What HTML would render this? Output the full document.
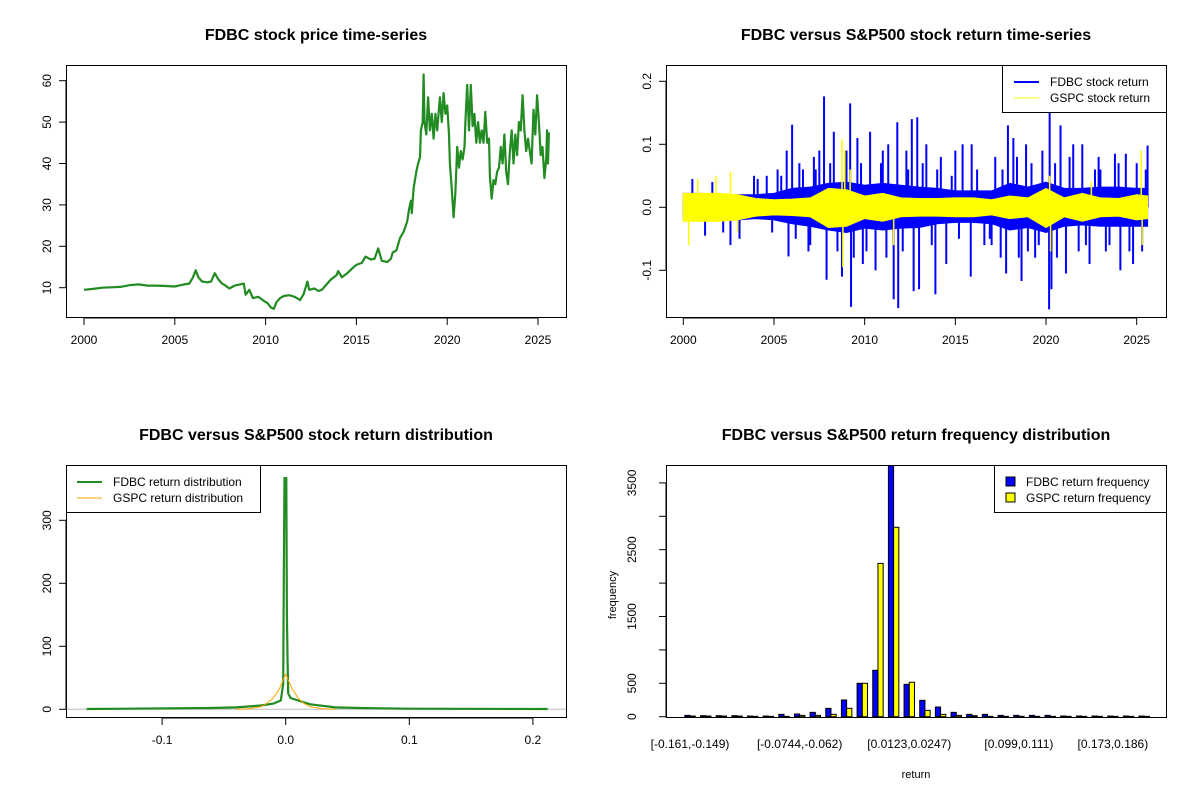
<!DOCTYPE html>
<html><head><meta charset="utf-8"><style>
html,body{margin:0;padding:0;background:#fff}
svg{display:block;font-family:"Liberation Sans",Arial,sans-serif}
</style></head><body>
<svg id="s" width="1200" height="800" viewBox="0 0 1200 800"></svg>
<script>
// ---------- data ----------
const priceYears=[2000.0,2000.5,2001,2001.5,2002,2002.5,2003,2003.5,2004,2004.5,2005,2005.5,2005.8,2006.0,2006.15,2006.3,2006.5,2006.8,2007.0,2007.2,2007.4,2007.6,2007.8,2008.0,2008.3,2008.6,2008.8,2008.9,2009.1,2009.3,2009.6,2009.9,2010.1,2010.3,2010.45,2010.6,2010.8,2011.0,2011.3,2011.6,2011.9,2012.1,2012.3,2012.4,2012.7,2012.9,2013.1,2013.3,2013.6,2013.9,2014.0,2014.2,2014.5,2014.8,2015.0,2015.3,2015.5,2015.8,2016.0,2016.2,2016.4,2016.7,2016.9,2017.0,2017.2,2017.4,2017.6,2017.8,2017.9,2018.0,2018.05,2018.15,2018.3,2018.4,2018.5,2018.55,2018.65,2018.7,2018.75,2018.85,2018.95,2019.05,2019.15,2019.25,2019.35,2019.45,2019.6,2019.7,2019.8,2019.9,2020.0,2020.1,2020.15,2020.25,2020.35,2020.45,2020.55,2020.65,2020.75,2020.85,2020.95,2021.0,2021.1,2021.2,2021.3,2021.4,2021.5,2021.6,2021.7,2021.8,2021.9,2022.0,2022.1,2022.2,2022.3,2022.35,2022.45,2022.55,2022.65,2022.75,2022.85,2022.95,2023.05,2023.15,2023.25,2023.35,2023.45,2023.55,2023.65,2023.75,2023.85,2023.95,2024.05,2024.15,2024.25,2024.35,2024.45,2024.55,2024.65,2024.75,2024.85,2024.95,2025.05,2025.15,2025.25,2025.35,2025.45,2025.5,2025.55,2025.6];
const priceValues=[9.5,9.7,10,10.1,10.2,10.6,10.8,10.5,10.5,10.4,10.3,10.8,11,12.5,14.2,12.5,11.5,11.3,11.5,13.5,12,11,10.5,9.8,10.5,10.8,11,8.3,9.5,7.5,7.8,6.8,6.3,5.2,4.9,6.5,7.5,8.0,8.2,7.8,7.0,8.5,11.5,9.5,9.8,9.2,9.5,10.5,12,13,14,12.5,13.5,14.8,15.5,16,17.5,16.8,17.0,19.5,16.5,16.2,17,18.5,19,22,23.5,26,29,31,28,34,38,40,41.5,48,50,61.5,50,47,56,48,52,46,52,48,56,50,57,52,54,47,40,34,27,33,44,39,43,41,44,50,59,48,59,49,52,45,50,45,48,45,52.5,45,46,37,31.5,36,35,38,39,44,40,47,38,35,43,48,40,47,42,50,48,56.5,48,43,46,43,40,53,47,56.5,50,42,44,36.5,41,48,40,47.5];

const bandYears=[2000,2001,2002,2003,2004,2005,2006,2007,2008,2009,2010,2011,2012,2013,2014,2015,2016,2017,2018,2019,2020,2021,2022,2023,2024,2025,2025.6];
const fdbcUp=[0.022,0.022,0.02,0.02,0.02,0.022,0.03,0.032,0.038,0.04,0.035,0.038,0.035,0.032,0.03,0.026,0.026,0.026,0.038,0.032,0.04,0.03,0.03,0.032,0.032,0.03,0.03];
const fdbcDn=[-0.02,-0.02,-0.02,-0.02,-0.018,-0.02,-0.026,-0.03,-0.036,-0.04,-0.033,-0.036,-0.033,-0.032,-0.026,-0.024,-0.024,-0.026,-0.036,-0.032,-0.04,-0.03,-0.028,-0.03,-0.03,-0.03,-0.03];
const gspcUp=[0.022,0.022,0.022,0.02,0.014,0.012,0.013,0.015,0.03,0.028,0.018,0.022,0.015,0.014,0.014,0.015,0.015,0.012,0.018,0.015,0.03,0.015,0.022,0.015,0.014,0.02,0.018];
const gspcDn=[-0.022,-0.022,-0.022,-0.02,-0.014,-0.012,-0.013,-0.015,-0.032,-0.03,-0.018,-0.022,-0.015,-0.014,-0.014,-0.015,-0.015,-0.012,-0.018,-0.015,-0.032,-0.015,-0.022,-0.015,-0.014,-0.02,-0.018];
const fdbcSpikeYears=[2000.5,2001.2,2002.6,2003.1,2003.9,2004.6,2005.2,2005.7,2005.8,2006.0,2006.4,2006.9,2007.2,2007.5,2007.76,2007.9,2008.3,2008.75,2009.0,2009.2,2009.25,2009.6,2009.9,2010.3,2010.6,2011.0,2011.3,2011.6,2011.8,2011.85,2012.3,2012.6,2012.7,2012.9,2013.0,2013.4,2013.9,2014.2,2014.5,2015.0,2015.4,2015.85,2015.9,2016.6,2017.2,2017.5,2017.8,2017.9,2018.2,2018.65,2018.9,2019.4,2019.8,2020.17,2020.2,2020.3,2020.8,2021.1,2021.5,2022.0,2022.4,2022.9,2023.3,2023.8,2024.1,2024.4,2024.8,2025.3,2025.6,
2001.6,2002.2,2004.1,2004.9,2005.4,2006.6,2006.2,2007.0,2007.3,2008.1,2008.5,2009.4,2009.8,2010.1,2010.9,2011.2,2012.1,2012.4,2013.2,2013.7,2014.0,2014.8,2015.2,2016.2,2016.9,2017.0,2017.6,2018.4,2018.5,2019.0,2019.2,2019.6,2020.5,2020.6,2021.3,2021.8,2022.2,2022.7,2023.0,2023.5,2024.0,2024.6,2025.0,2025.5];
const fdbcSpikeValues=[0.045,-0.045,-0.06,-0.05,0.05,0.05,0.06,0.09,-0.078,0.131,0.07,-0.07,0.08,0.09,0.176,-0.115,0.12,-0.11,0.09,0.165,-0.158,0.11,-0.09,0.12,-0.1,0.09,0.1,-0.146,0.135,-0.16,0.09,0.14,-0.133,0.143,-0.13,0.1,-0.138,0.08,-0.09,0.09,0.1,-0.11,0.1,-0.06,0.08,-0.08,-0.105,0.13,0.11,-0.117,0.1,-0.08,0.09,-0.162,0.15,-0.13,0.13,-0.105,0.1,0.1,-0.09,0.08,-0.07,0.085,-0.1,0.085,-0.09,-0.07,0.098,
0.04,-0.04,0.045,-0.04,0.05,0.06,-0.05,-0.06,0.06,0.07,-0.07,-0.08,0.07,-0.07,0.07,-0.08,-0.07,0.06,0.07,-0.06,0.06,0.05,-0.05,0.06,-0.05,-0.06,0.06,0.08,-0.08,-0.07,0.07,-0.06,0.07,-0.08,0.08,-0.07,-0.06,0.06,0.06,-0.06,0.07,-0.07,0.07,0.06];
const gspcSpikeYears=[2000.3,2000.8,2001.8,2002.6,2003.0,2008.75,2008.8,2008.9,2009.2,2011.6,2020.2,2020.25,2022.5,2025.25,2025.3];
const gspcSpikeValues=[-0.06,0.045,0.05,0.056,-0.04,0.108,-0.095,0.09,0.06,-0.06,0.05,-0.07,0.04,0.09,-0.06];

const fdbcDensX=[-0.161,-0.06,-0.04,-0.02,-0.01,-0.004,-0.002,-0.0015,-0.001,0.0005,0.001,0.0015,0.002,0.004,0.01,0.02,0.04,0.06,0.1,0.212];
const fdbcDensY=[0.5,2,3,6,9,14,40,210,367,367,150,75,25,18,14,8,3,2,1,0.5];
const gspcDensX=[-0.04,-0.03,-0.02,-0.015,-0.01,-0.005,0,0.005,0.01,0.015,0.02,0.03,0.04];
const gspcDensY=[0,1,4,10,18,33,56,33,18,9,4,1,0];

const binLabels=["[-0.161,-0.149)","[-0.0744,-0.062)","[0.0123,0.0247)","[0.099,0.111)","[0.173,0.186)"];
const binLabelIdx=[0,7,14,21,27];
const fdbcFreq=[20,15,15,15,10,10,35,40,65,125,250,500,695,3800,485,245,145,65,35,35,20,20,20,20,10,10,10,10,10,10];
const gspcFreq=[10,10,10,10,5,5,5,20,20,35,125,500,2295,2835,515,95,35,20,15,5,5,5,5,5,5,5,5,5,5,5];

// ---------- helpers ----------
const NS="http://www.w3.org/2000/svg";
const svg=document.getElementById('s');
function mk(tag,attrs,parent){const e=document.createElementNS(NS,tag);for(const k in attrs)e.setAttribute(k,attrs[k]);(parent||svg).appendChild(e);return e;}
function txt(x,y,s,size,anchor,rot,bold,parent){const t=mk('text',{x:x,y:y,'font-size':size,'text-anchor':anchor||'middle',fill:'#000'},parent);if(bold)t.setAttribute('font-weight','bold');if(rot)t.setAttribute('transform','rotate(-90 '+x+' '+y+')');t.textContent=s;return t;}
function lin(a,b,c,d){return v=>c+(v-a)*(d-c)/(b-a);}

// ---------- panel 1: price ----------
{
const g=mk('g',{});


const X=lin(2000,2025,84,538), Y=lin(10,60,287.7,80.7);
let d='';priceYears.forEach((yr,i)=>{d+=(i?'L':'M')+X(yr).toFixed(1)+' '+Y(priceValues[i]).toFixed(1);});
const p=mk('path',{d:d,fill:'none',stroke:'#228B22','stroke-width':2.2,'stroke-linejoin':'round'},g);

const b=mk('rect',{x:66.5,y:65.5,width:500,height:252,fill:'none',stroke:'#000'},g);

[2000,2005,2010,2015,2020,2025].forEach(v=>{mk('line',{x1:X(v),x2:X(v),y1:318,y2:325,stroke:'#000'},g);txt(X(v),344,String(v),12,'middle',0,0,g);});
mk('line',{x1:X(2000),x2:X(2025),y1:318,y2:318,stroke:'#000'},g);
[10,20,30,40,50,60].forEach(v=>{mk('line',{x1:59,x2:66,y1:Y(v),y2:Y(v),stroke:'#000'},g);txt(51,Y(v),String(v),12,'middle',1,0,g);});
mk('line',{x1:66,x2:66,y1:Y(10),y2:Y(60),stroke:'#000'},g);
const t=txt(316,40,'FDBC stock price time-series',16,'middle',0,1,g);

}

// ---------- panel 2: returns ----------
{
const g=mk('g',{});


const X=lin(2000,2025,683.3,1136.7), Y=lin(0,0.1,207.3,144.3);
function band(up,dn,col,name){let d='';bandYears.forEach((yr,i)=>{d+=(i?'L':'M')+X(yr).toFixed(1)+' '+Y(up[i]).toFixed(1);});for(let i=bandYears.length-1;i>=0;i--)d+='L'+X(bandYears[i]).toFixed(1)+' '+Y(dn[i]).toFixed(1);d+='Z';const p=mk('path',{d:d,fill:col,stroke:col,'stroke-width':1},g);}
function spikes(ys,vs,col,w,name){ys.forEach((yr,i)=>{const l=mk('line',{x1:X(yr),x2:X(yr),y1:Y(0),y2:Y(vs[i]),stroke:col,'stroke-width':w},g);});}
spikes(fdbcSpikeYears,fdbcSpikeValues,'#0000FF',2,'fdbc-return-spike');
band(fdbcUp,fdbcDn,'#0000FF','fdbc-return-band');
band(gspcUp,gspcDn,'#FFFF00','gspc-return-band');
spikes(gspcSpikeYears,gspcSpikeValues,'#FFFF00',1.5,'gspc-return-spike');
mk('rect',{x:666.5,y:65.5,width:500,height:252,fill:'none',stroke:'#000'},g);
[2000,2005,2010,2015,2020,2025].forEach(v=>{mk('line',{x1:X(v),x2:X(v),y1:318,y2:325,stroke:'#000'},g);txt(X(v),344,String(v),12,'middle',0,0,g);});
mk('line',{x1:X(2000),x2:X(2025),y1:318,y2:318,stroke:'#000'},g);
[-0.1,0,0.1,0.2].forEach(v=>{mk('line',{x1:659,x2:666,y1:Y(v),y2:Y(v),stroke:'#000'},g);txt(651,Y(v),v.toFixed(1),12,'middle',1,0,g);});
mk('line',{x1:666,x2:666,y1:Y(-0.1),y2:Y(0.2),stroke:'#000'},g);
const lg=mk('g',{},g);
mk('rect',{x:1002.5,y:65.5,width:164,height:47,fill:'#fff',stroke:'#000'},lg);
mk('line',{x1:1014,x2:1039,y1:82,y2:82,stroke:'#0000FF','stroke-width':2},lg);
mk('line',{x1:1014,x2:1039,y1:98,y2:98,stroke:'#FFFF00','stroke-width':1},lg);
txt(1050,86,'FDBC stock return',12,'start',0,0,lg);
txt(1050,102,'GSPC stock return',12,'start',0,0,lg);
txt(916,40,'FDBC versus S&P500 stock return time-series',16,'middle',0,1,g);
}

// ---------- panel 3: density ----------
{
const g=mk('g',{});


const X=lin(0,0.1,285.7,409.3), Y=lin(0,100,709.3,646.3);
mk('line',{x1:67,x2:566,y1:Y(0),y2:Y(0),stroke:'#bebebe'},g);
function curve(xs,ys,col,w,name){let d='';xs.forEach((x,i)=>{d+=(i?'L':'M')+X(x).toFixed(1)+' '+Y(ys[i]).toFixed(1);});const p=mk('path',{d:d,fill:'none',stroke:col,'stroke-width':w},g);}
curve(fdbcDensX,fdbcDensY,'#228B22',2.2,'fdbc-density-line');
curve(gspcDensX,gspcDensY,'#FFA500',1,'gspc-density-line');
mk('rect',{x:66.5,y:465.5,width:500,height:252,fill:'none',stroke:'#000'},g);
[-0.1,0,0.1,0.2].forEach(v=>{mk('line',{x1:X(v),x2:X(v),y1:718,y2:725,stroke:'#000'},g);txt(X(v),744,v.toFixed(1),12,'middle',0,0,g);});
mk('line',{x1:X(-0.1),x2:X(0.2),y1:718,y2:718,stroke:'#000'},g);
[0,100,200,300].forEach(v=>{mk('line',{x1:59,x2:66,y1:Y(v),y2:Y(v),stroke:'#000'},g);txt(51,Y(v),String(v),12,'middle',1,0,g);});
mk('line',{x1:66,x2:66,y1:Y(0),y2:Y(300),stroke:'#000'},g);
const lg=mk('g',{},g);
mk('rect',{x:66.5,y:465.5,width:194,height:47,fill:'#fff',stroke:'#000'},lg);
mk('line',{x1:77,x2:102,y1:482,y2:482,stroke:'#228B22','stroke-width':2},lg);
mk('line',{x1:77,x2:102,y1:498,y2:498,stroke:'#FFA500','stroke-width':1},lg);
txt(113,486,'FDBC return distribution',12,'start',0,0,lg);
txt(113,502,'GSPC return distribution',12,'start',0,0,lg);
txt(316,440,'FDBC versus S&P500 stock return distribution',16,'middle',0,1,g);
}

// ---------- panel 4: histogram ----------
{
const g=mk('g',{});


const U=lin(0,1,679.6,684.82), Y=lin(0,500,716.7,683.3);
const clip=mk('clipPath',{id:'c4'},g);mk('rect',{x:667,y:466,width:500,height:252},clip);
const bars=mk('g',{'clip-path':'url(#c4)'},g);
fdbcFreq.forEach((v,i)=>{const r=mk('rect',{x:U(3*i+1),y:Y(v),width:U(1)-U(0),height:Y(0)-Y(v),fill:'#0000FF',stroke:'#000','stroke-width':1},bars);});
gspcFreq.forEach((v,i)=>{const r=mk('rect',{x:U(3*i+2),y:Y(v),width:U(1)-U(0),height:Y(0)-Y(v),fill:'#FFFF00',stroke:'#000','stroke-width':1},bars);});
mk('rect',{x:666.5,y:465.5,width:500,height:252,fill:'none',stroke:'#000'},g);
binLabelIdx.forEach((k,j)=>{txt(U(3*k+2),748,binLabels[j],12,'middle',0,0,g);});
[0,500,1000,1500,2000,2500,3000,3500].forEach(v=>{mk('line',{x1:659,x2:666,y1:Y(v),y2:Y(v),stroke:'#000'},g);});
[0,500,1500,2500,3500].forEach(v=>{txt(636,Y(v),String(v),12,'middle',1,0,g);});
mk('line',{x1:666,x2:666,y1:Y(0),y2:Y(3500),stroke:'#000'},g);
txt(616,595,'frequency',11,'middle',1,0,g);
txt(916,778,'return',11,'middle',0,0,g);
const lg=mk('g',{},g);
mk('rect',{x:994.5,y:465.5,width:172,height:47,fill:'#fff',stroke:'#000'},lg);
mk('rect',{x:1006,y:477,width:9,height:9,fill:'#0000FF',stroke:'#000'},lg);
mk('rect',{x:1006,y:493,width:9,height:9,fill:'#FFFF00',stroke:'#000'},lg);
txt(1026,486,'FDBC return frequency',12,'start',0,0,lg);
txt(1026,502,'GSPC return frequency',12,'start',0,0,lg);
txt(916,440,'FDBC versus S&P500 return frequency distribution',16,'middle',0,1,g);
}
</script>
</body></html>
